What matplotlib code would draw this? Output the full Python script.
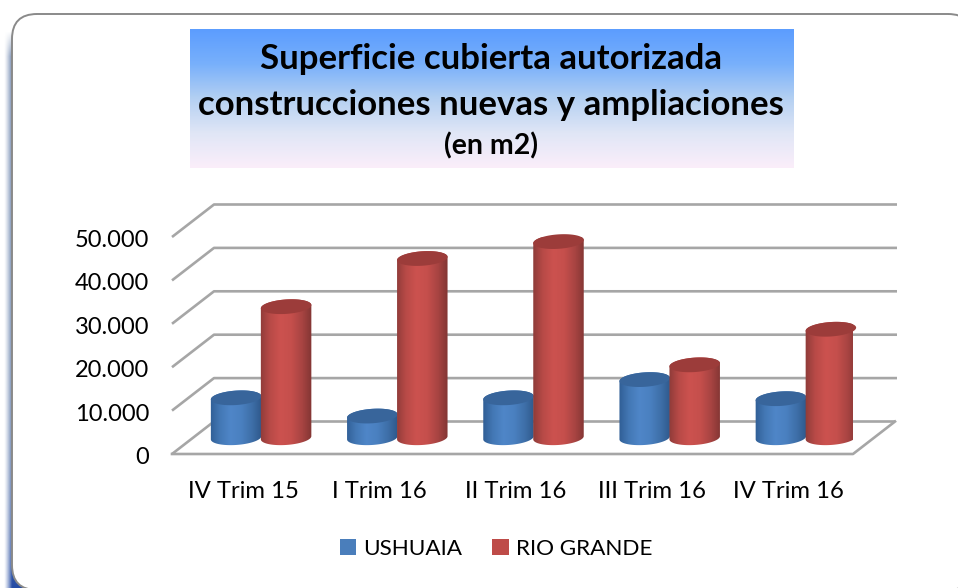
import numpy as np
import matplotlib
matplotlib.use("Agg")
import matplotlib.pyplot as plt
from matplotlib.colors import LinearSegmentedColormap
from matplotlib.patches import FancyBboxPatch, Polygon, Patch
from matplotlib.transforms import ScaledTranslation

categories = ["IV Trim 15", "I Trim 16", "II Trim 16", "III Trim 16", "IV Trim 16"]
ushuaia = [9200, 5000, 9200, 13400, 9000]
rio_grande = [30200, 41300, 45200, 16800, 25000]
series_names = ["USHUAIA", "RIO GRANDE"]
y_ticks = [0, 10000, 20000, 30000, 40000, 50000]
y_labels = ["0", "10.000", "20.000", "30.000", "40.000", "50.000"]
title_line1 = "Superficie cubierta autorizada"
title_line2 = "construcciones nuevas y ampliaciones"
title_sub = "(en m2)"

W, H = 958, 588
FONT = "Lato"
plt.rcParams["font.family"] = [FONT, "DejaVu Sans"]
fig = plt.figure(figsize=(W / 100, H / 100), dpi=100, facecolor="white")

# decoration layer, in pixels
bg = fig.add_axes([0, 0, 1, 1])
bg.set_xlim(0, W)
bg.set_ylim(H, 0)
bg.axis("off")

# left shadow
xs = np.linspace(3, 40, 120)
ramp = np.clip((xs - 4) / 8, 0, 1) ** 1.3
ny = 200
shadow = np.zeros((ny, 120, 4))
vert = np.linspace(0, 1, ny)[:, None]
shadow[..., 0] = 0.42 - 0.32 * vert ** 6
shadow[..., 1] = 0.52 - 0.26 * vert ** 6
shadow[..., 2] = 0.68 - 0.05 * vert ** 6
shadow[..., 3] = ramp[None, :] * 0.95 * np.clip((vert * 558) / 25, 0, 1)
bg.imshow(shadow, extent=(3, 40, 588, 30), aspect="auto", zorder=1, interpolation="bilinear")
bg.set_xlim(0, W)
bg.set_ylim(H, 0)

frame = FancyBboxPatch((12, 14), 961, 576, boxstyle="round,pad=0,rounding_size=25",
                       fc="white", ec="#8a8a8a", lw=1.4, zorder=2)
bg.add_patch(frame)

# title band
band_cmap = LinearSegmentedColormap.from_list(
    "band", ["#5C9DFF", "#78B0FB", "#B4D0F2", "#E0E6F6", "#FBEEFA"])
bg.imshow(np.linspace(0, 1, 200)[:, None], cmap=band_cmap, extent=(190, 794, 168, 29),
          aspect="auto", zorder=3)
bg.set_xlim(0, W)
bg.set_ylim(H, 0)
bg.text(491, 59, title_line1, ha="center", va="center", fontsize=25, fontweight="bold",
        color="black", zorder=4)
bg.text(491, 105, title_line2, ha="center", va="center", fontsize=25, fontweight="bold",
        color="black", zorder=4)
bg.text(491, 146, title_sub, ha="center", va="center", fontsize=20.5, fontweight="bold",
        color="black", zorder=4)

# chart axes = the front plane of the 3D box
X0, X1, Y0, Y1 = 172, 853, 454, 237
ax = fig.add_axes([X0 / W, 1 - Y0 / H, (X1 - X0) / W, (Y0 - Y1) / H])
ax.patch.set_alpha(0)
n = len(categories)
ax.set_xlim(0, n)
ax.set_ylim(0, 50000)
for s in ax.spines.values():
    s.set_visible(False)

px_x = n / (X1 - X0)                 # data units per pixel
px_y = 50000 / (Y0 - Y1)
depth_x, depth_y = 42 * px_x, 32.5 * px_y
back_right = 897 - X0
GRID = "#A6A6A6"
LW = 1.9
for v in y_ticks:
    end = (back_right * px_x) if v else n + depth_x
    ax.plot([0, depth_x, end], [v, v + depth_y, v + depth_y], color=GRID, lw=LW,
            clip_on=False, zorder=1, solid_capstyle="butt")
ax.plot([0, n, n + depth_x], [0, 0, depth_y], color=GRID, lw=LW, clip_on=False, zorder=1)

ax.set_yticks(y_ticks, y_labels, fontsize=17)
ax.set_xticks(np.arange(n) + 0.523, categories, fontsize=17.2)
ax.tick_params(axis="both", length=0, colors="black")
ax.tick_params(axis="y", pad=16.5)
ax.tick_params(axis="x", pad=19.5)
down = ScaledTranslation(0, -1.5 / 100, fig.dpi_scale_trans)
for lab in ax.get_yticklabels():
    lab.set_transform(lab.get_transform() + down)


def cylinder(xc, value, cmap, cap, z):
    """Tilted cylinder from 0 to value; xc in data units."""
    a, b, tilt = 25.3, 7.2, np.deg2rad(-4)
    base_y = depth_y / 2

    def ell(t, y_base):
        dx = a * np.cos(t) * np.cos(tilt) - b * np.sin(t) * np.sin(tilt)
        dy = a * np.cos(t) * np.sin(tilt) + b * np.sin(t) * np.cos(tilt)
        return np.column_stack([xc + dx * px_x, y_base - dy * px_y])

    low = ell(np.linspace(np.pi, 0, 60), base_y)      # front of the base (screen-down)
    top = ell(np.linspace(0, -np.pi, 60), base_y + value)
    body = Polygon(np.vstack([low, top]), closed=True, fc="none", ec="none",
                   transform=ax.transData)
    ax.add_patch(body)
    g = np.linspace(0, 1, 100)[None, :]
    im = ax.imshow(g, cmap=cmap, aspect="auto", zorder=z,
                   extent=(xc - 27 * px_x, xc + 27 * px_x, 0, base_y + value + 10 * px_y))
    im.set_clip_path(body)
    full = ell(np.linspace(0, 2 * np.pi, 120), base_y + value)
    ax.add_patch(Polygon(full, closed=True, fc=cap, ec="none", zorder=z + 0.1, clip_on=False))


blue_cmap = LinearSegmentedColormap.from_list(
    "b", ["#2F5C93", "#4378B5", "#4F86C8", "#4A80C0", "#3E6FA8", "#2D5688"])
red_cmap = LinearSegmentedColormap.from_list(
    "r", ["#8B3A38", "#B84A47", "#CC524F", "#C54F4C", "#A84442", "#7F3432"])

for i in range(n):
    xc = i + 0.5 + depth_x / 2
    cylinder(xc - 25 * px_x, ushuaia[i], blue_cmap, "#38659B", 3 + i * 0.01)
    cylinder(xc + 25 * px_x, rio_grande[i], red_cmap, "#9C3C3A", 4 + i * 0.01)

ax.set_xlim(0, n)
ax.set_ylim(0, 50000)

handles = [Patch(fc="#4A7EBB", ec="none"), Patch(fc="#BE4B48", ec="none")]
fig.legend(handles, series_names, loc="center", bbox_to_anchor=(496 / W, 1 - 549 / H),
           ncol=2, frameon=False, fontsize=16.2, handlelength=0.75, handleheight=0.75,
           handletextpad=0.32, columnspacing=1.3, borderpad=0, labelcolor="black")

fig.savefig("out.png", dpi=100)
